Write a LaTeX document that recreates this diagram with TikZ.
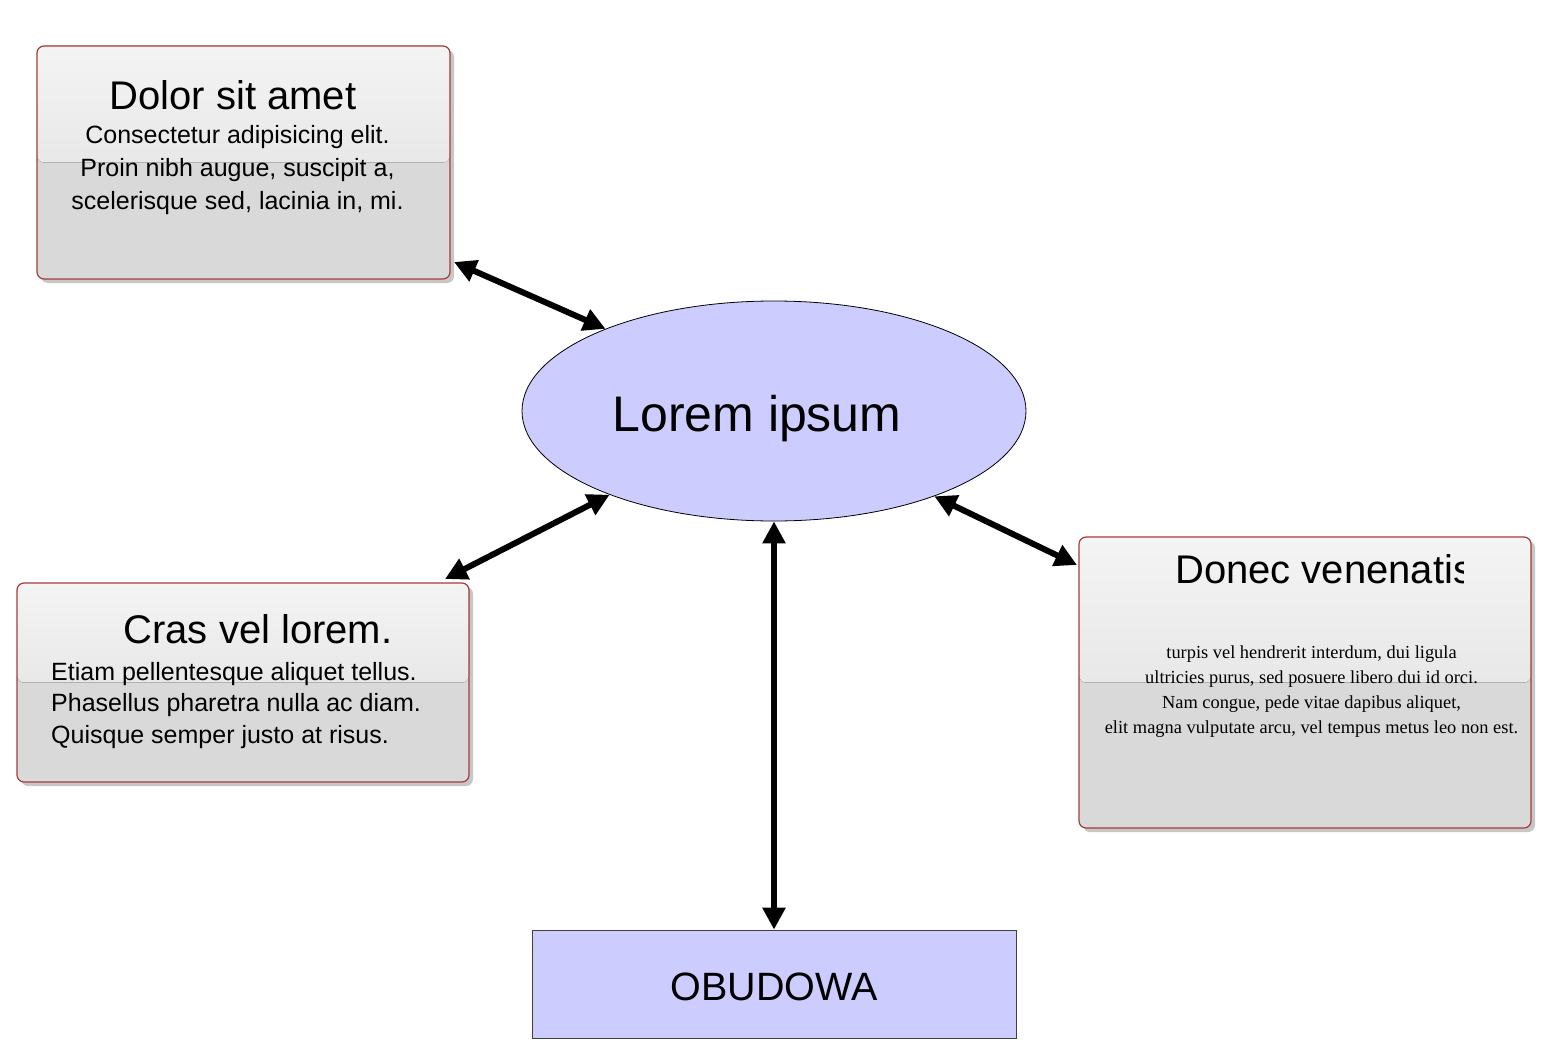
\documentclass[tikz,border=0pt]{standalone}
\usepackage{fontspec}
\setmainfont{Liberation Sans}
\newfontfamily\timesf{Liberation Serif}
\usetikzlibrary{arrows.meta,shadows,calc,shapes.geometric}
\definecolor{boxred}{HTML}{A53B3B}
\definecolor{lav}{HTML}{CCCCFF}
\definecolor{topA}{HTML}{F4F4F4}
\definecolor{topB}{HTML}{E8E8E8}
\definecolor{botC}{HTML}{D9D9D9}
\begin{document}
\begin{tikzpicture}[x=1pt,y=-1pt,
  card/.style={draw=boxred, line width=1.2pt, rounded corners=7pt, inner sep=0pt, outer sep=0pt,
    drop shadow={shadow xshift=4pt, shadow yshift=-4pt, opacity=0.4, fill=black!55},
    path picture={
      \fill[botC] (path picture bounding box.north west) rectangle (path picture bounding box.south east);
      \fill[top color=topA, bottom color=topB] (path picture bounding box.north west) rectangle (path picture bounding box.east);
    }},
  ttl/.style={font=\fontsize{40}{48}\selectfont, anchor=base, inner sep=0pt},
  bodys/.style={font=\fontsize{25}{33}\selectfont, align=center, anchor=base, inner sep=0pt},
  conn/.style={line width=6pt, {Triangle[length=22pt,width=22pt]}-{Triangle[length=22pt,width=22pt]}}
]
\useasboundingbox (0,0) rectangle (1549,1054);

% boxes
\node[card, minimum width=413pt, minimum height=233pt] (tl) at (243.5,162.5) {};
\node[card, minimum width=452pt, minimum height=199pt] (lb) at (243,682.5) {};
\node[card, minimum width=452pt, minimum height=291pt] (rb) at (1305,682.5) {};
\node[draw=black!75, fill=lav, line width=0.8pt, inner sep=0pt, minimum width=484pt, minimum height=108pt] (ob) at (774,984) {};
\node[ellipse, draw=black, fill=lav, line width=0.8pt, inner sep=0pt, minimum width=504pt, minimum height=220pt] (ell) at (774,411) {};

% texts (multi-line nodes: base = last line baseline)
\node[ttl] (tlt) at (233,110) {Dolor sit amet};
\node[bodys] (tlb) at (237.5,209) {Consectetur adipisicing elit.\\Proin nibh augue, suscipit a,\\scelerisque sed, lacinia in, mi.};

\node[ttl] (lbt) at (258,643) {Cras vel lorem.};
\node[bodys, align=left, anchor=base west, font=\fontsize{25}{31.5}\selectfont] (lbb) at (51,743) {Etiam pellentesque aliquet tellus.\\Phasellus pharetra nulla ac diam.\\Quisque semper justo at risus.};

\begin{scope}
  \clip (rb.north west) rectangle ($(rb.south west)+(384,0)$);
  \node[ttl, anchor=base west] (rbt) at (1175,583) {Donec venenatis};
\end{scope}
\node[bodys, font=\timesf\fontsize{18.4}{25}\selectfont] (rbb) at (1311.5,733) {turpis vel hendrerit interdum, dui ligula\\ultricies purus, sed posuere libero dui id orci.\\Nam congue, pede vitae dapibus aliquet,\\elit magna vulputate arcu, vel tempus metus leo non est.};

\node[font=\fontsize{50}{60}\selectfont, anchor=base, inner sep=0pt] (ellt) at (757,431) {Lorem ipsum};
\node[font=\fontsize{39.5}{48}\selectfont, anchor=base, inner sep=0pt] (obt) at (774,1000) {OBUDOWA};

% connectors
\draw[conn] ($(tl.south east)+(4,-17)$) -- (ell.154.6);
\draw[conn] ($(lb.north east)+(-24,-4)$) -- (ell.207.3);
\draw[conn] ($(rb.north west)+(-2,28)$) -- (ell.332.9);
\draw[conn] (ob.north) -- (ell.south);
\end{tikzpicture}
\end{document}
